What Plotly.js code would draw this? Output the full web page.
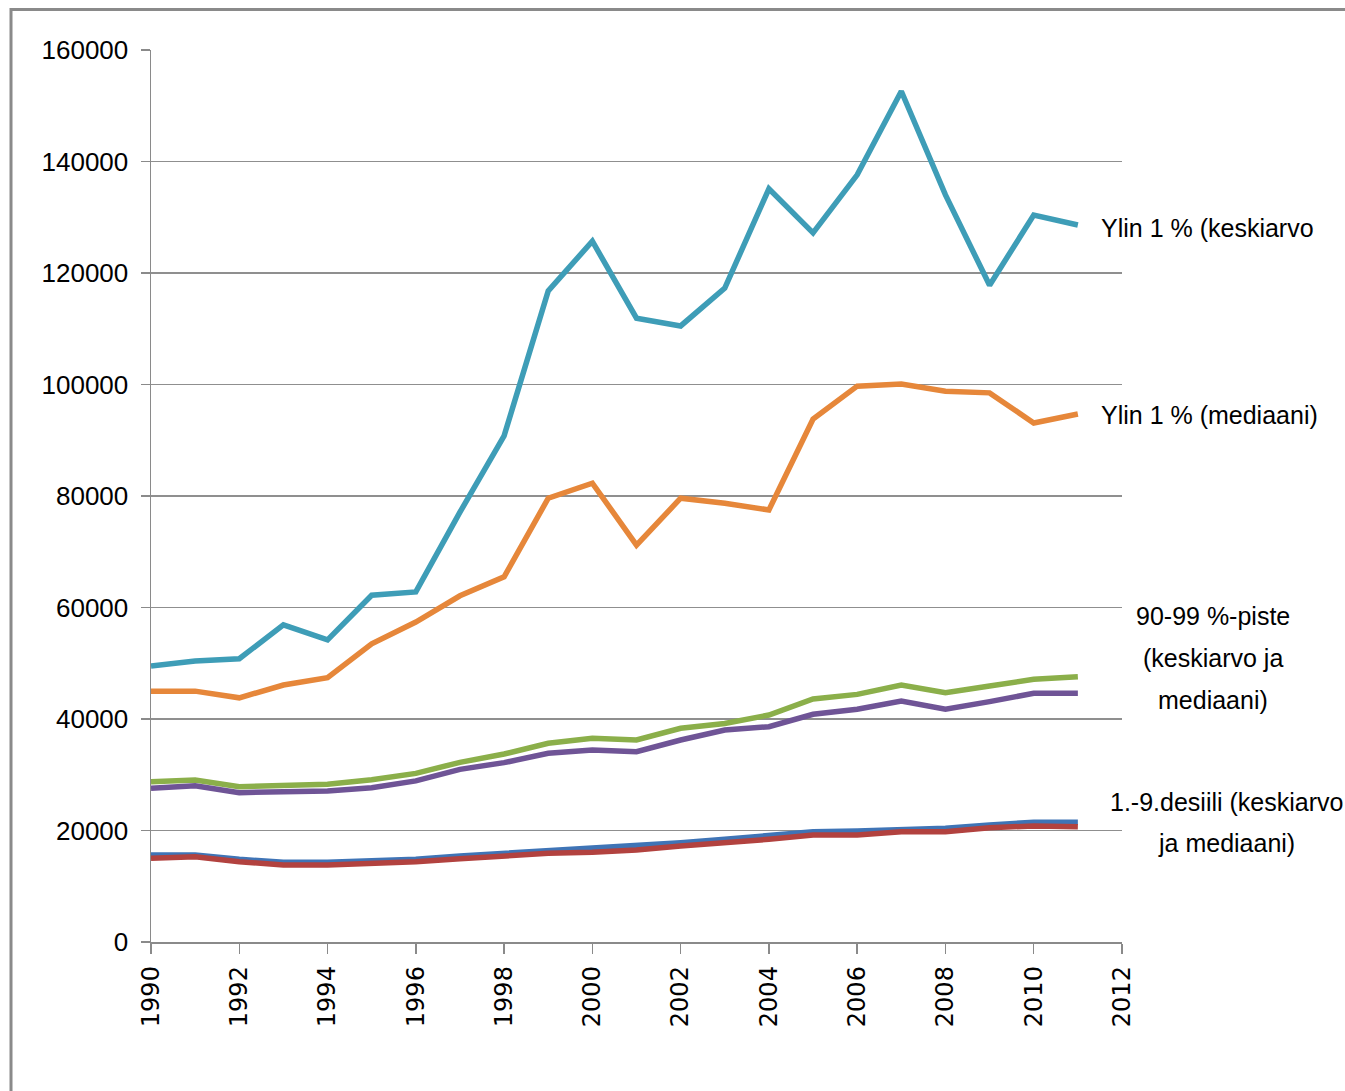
<!DOCTYPE html>
<html>
<head>
<meta charset="utf-8">
<script src="https://cdn.plot.ly/plotly-3.0.1.min.js"></script>
<style>
html,body{margin:0;padding:0;background:#fff;}
#chart{width:1345px;height:1091px;}
</style>
</head>
<body>
<div id="chart"></div>
<script>
const years = [1990,1991,1992,1993,1994,1995,1996,1997,1998,1999,2000,2001,2002,2003,2004,2005,2006,2007,2008,2009,2010,2011];

const top1Mean   = [49500,50400,50800,56900,54200,62200,62800,77100,90800,116800,125700,111900,110500,117300,135100,127200,137600,152600,134000,117800,130400,128600];
const top1Median = [45000,45000,43800,46100,47400,53500,57400,62100,65500,79600,82300,71200,79600,78700,77500,93800,99700,100100,98800,98500,93100,94700];
const p90_99Mean   = [28750,29060,27860,27980,28280,29100,30250,32230,33720,35640,36530,36230,38330,39200,40720,43590,44420,46100,44720,45920,47120,47590];
const p90_99Median = [27570,28040,26790,26970,27090,27680,28900,30970,32170,33850,34440,34140,36230,38030,38620,40840,41740,43230,41740,43110,44610,44610];
const dec1_9Mean   = [15600,15600,14830,14290,14290,14530,14830,15430,15900,16380,16680,17100,17810,18420,19190,19790,19910,20210,20390,20990,21470,21470];
const dec1_9Median = [15010,15310,14400,13810,13810,14110,14400,14950,15430,15900,16090,16500,17220,17700,18420,19190,19190,19790,19790,20510,20810,20690];

const yTicks = [0,20000,40000,60000,80000,100000,120000,140000,160000];
const xTicks = [1990,1992,1994,1996,1998,2000,2002,2004,2006,2008,2010,2012];

const labelTop1Mean = "Ylin 1 % (keskiarvo";
const labelTop1Median = "Ylin 1 % (mediaani)";
const labelP90Lines = ["90-99 %-piste", "(keskiarvo ja", "mediaani)"];
const labelDecLines = ["1.-9.desiili (keskiarvo", "ja mediaani)"];

function line(y, color) {
  return {x: years, y: y, type: 'scatter', mode: 'lines',
          line: {color: color, width: 5.5}, hoverinfo: 'skip', showlegend: false};
}

const data = [
  line(dec1_9Mean, '#3F74B6'),
  line(dec1_9Median, '#B2423F'),
  line(p90_99Mean, '#8BAF4A'),
  line(p90_99Median, '#6F5496'),
  line(top1Median, '#E6873A'),
  line(top1Mean, '#3E9DB7')
];

const FONT = '"Liberation Sans", Arial, sans-serif';
const W = 1345, H = 1091, ML = 151, MR = 223, MT = 50, MB = 149;
const PW = W - ML - MR, PH = H - MT - MB;
const px = v => (v - ML) / PW;
const py = v => (H - MB - v) / PH;

function ann(text, x, y, anchor) {
  return {xref: 'paper', yref: 'paper', x: px(x), y: py(y), xanchor: anchor, yanchor: 'middle',
          text: text, showarrow: false, font: {family: FONT, size: 25, color: '#000'}};
}

const annotations = [
  ann(labelTop1Mean, 1099, 228, 'left'),
  ann(labelTop1Median, 1099, 415, 'left')
];
labelP90Lines.forEach((t, i) => annotations.push(ann(t, 1213, 616 + i * 42, 'center')));
labelDecLines.forEach((t, i) => annotations.push(ann(t, 1226, 802 + i * 41, 'center')));

const layout = {
  width: W, height: H,
  margin: {l: ML, r: MR, t: MT, b: MB, pad: 0},
  paper_bgcolor: '#ffffff', plot_bgcolor: '#ffffff',
  showlegend: false,
  xaxis: {
    range: [1990, 2012], tickvals: xTicks, ticktext: xTicks.map(String),
    tickangle: -90, ticks: 'outside', ticklen: 10, tickwidth: 1.5, tickcolor: '#8a8a8a',
    showline: true, linecolor: '#8a8a8a', linewidth: 1.5,
    showgrid: false, zeroline: false, fixedrange: true,
    tickfont: {family: '"DejaVu Sans", sans-serif', size: 24, color: '#000'},
    ticklabelstandoff: 3
  },
  yaxis: {
    range: [0, 160000], tickvals: yTicks, ticktext: yTicks.map(String),
    ticks: 'outside', ticklen: 9, tickwidth: 1.5, tickcolor: '#8a8a8a',
    showline: true, linecolor: '#8a8a8a', linewidth: 1.5,
    showgrid: true, gridcolor: '#8f8f8f', gridwidth: 1.5, zeroline: false, fixedrange: true,
    tickfont: {family: FONT, size: 26, color: '#000'},
    ticklabelstandoff: 7
  },
  shapes: [
    {type: 'line', xref: 'paper', yref: 'paper', x0: px(11), x1: px(11), y0: py(8), y1: py(1100),
     line: {color: '#8a8a8a', width: 3}},
    {type: 'line', xref: 'paper', yref: 'paper', x0: px(10), x1: px(1360), y0: py(9.5), y1: py(9.5),
     line: {color: '#8a8a8a', width: 3}}
  ],
  annotations: annotations
};

Plotly.newPlot('chart', data, layout, {displayModeBar: false, staticPlot: true});
</script>
</body>
</html>
